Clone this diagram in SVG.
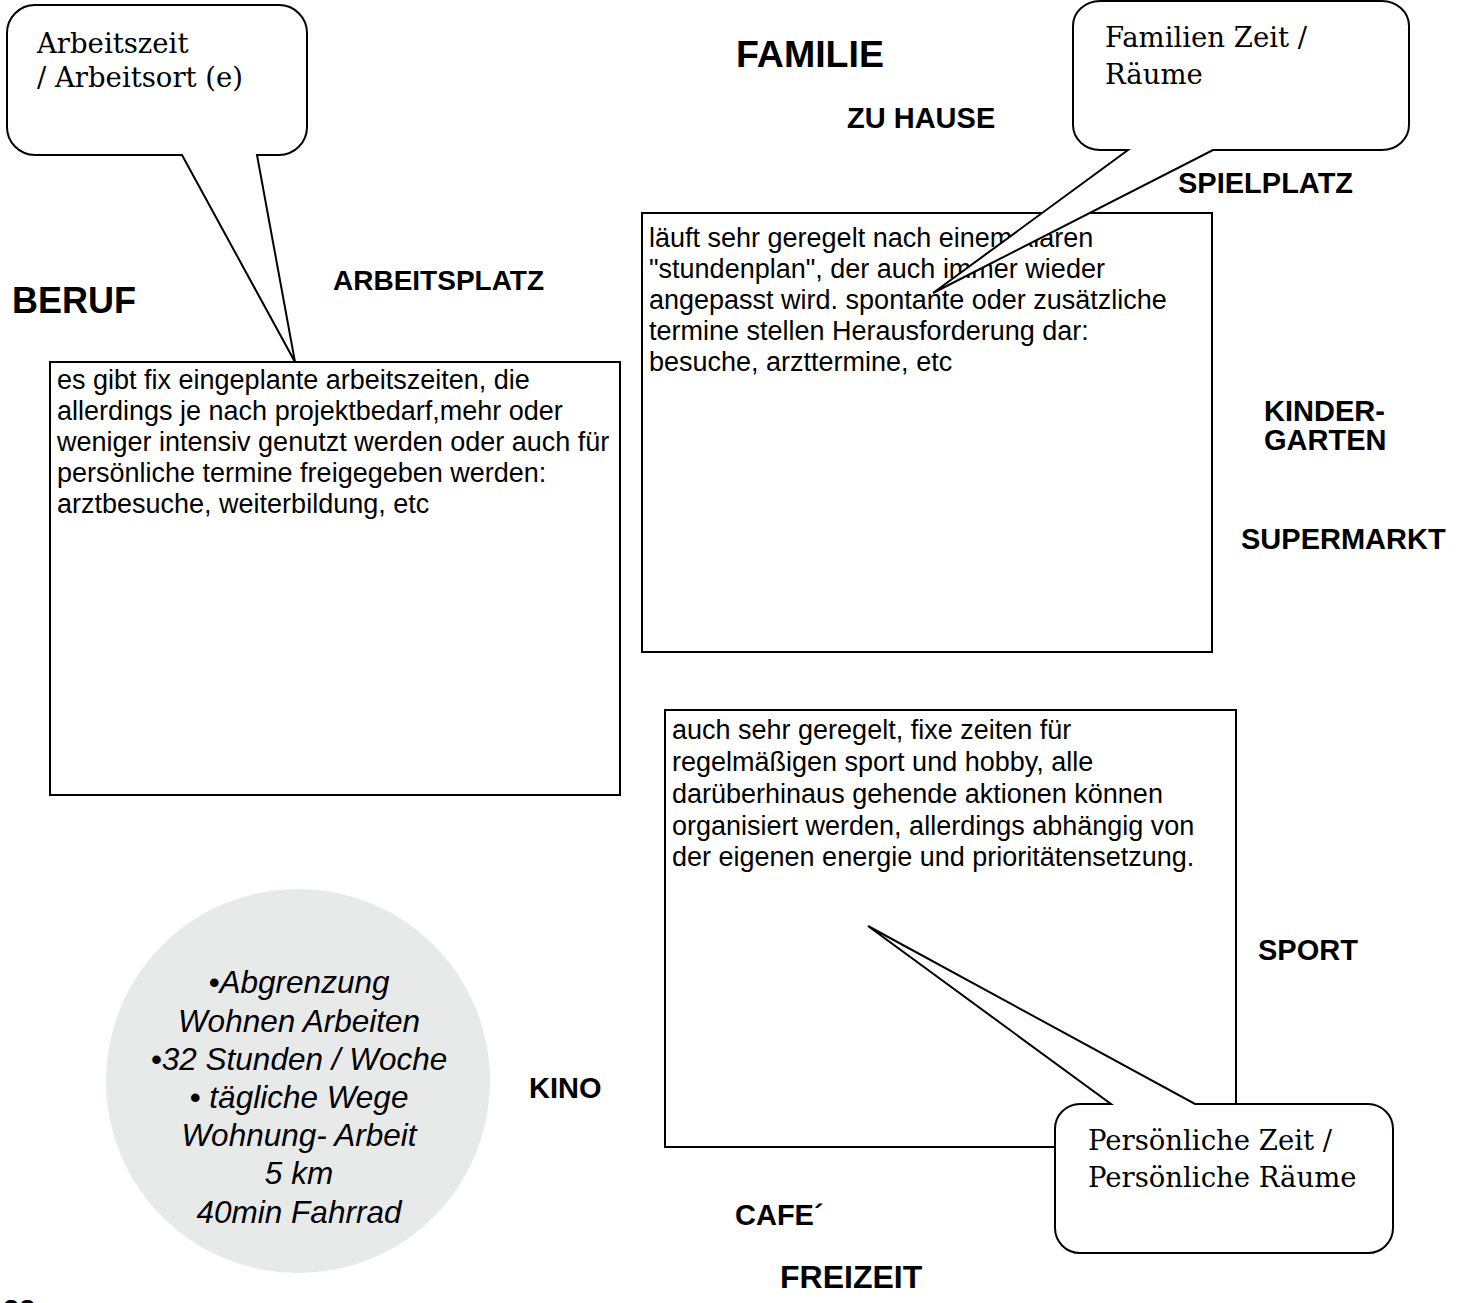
<svg xmlns="http://www.w3.org/2000/svg" width="1463" height="1303" viewBox="0 0 1463 1303">
  <style>
    .box { fill: #ffffff; stroke: #000000; stroke-width: 2; }
    .bubble { fill: #ffffff; stroke: #000000; stroke-width: 2; stroke-linejoin: miter; }
    .body { font-family: "Liberation Sans", Arial, sans-serif; font-size: 27px; fill: #000000; }
    .label { font-family: "Liberation Sans", Arial, sans-serif; font-size: 29px; font-weight: bold; fill: #000000; }
    .heading { font-family: "Liberation Sans", Arial, sans-serif; font-size: 36px; font-weight: bold; fill: #000000; }
    .note { font-family: "DejaVu Serif", "Liberation Serif", serif; font-size: 27.5px; fill: #000000; }
    .disc { font-family: "Liberation Sans", Arial, sans-serif; font-size: 31.5px; font-style: italic; fill: #000000; text-anchor: middle; }
  </style>

  <rect width="1463" height="1303" fill="#ffffff"/>

  <!-- section headings and place labels -->
  <g id="headings">
    <text class="heading" x="12" y="313">BERUF</text>
    <text class="heading" x="736" y="67" style="font-size:37.5px">FAMILIE</text>
    <text class="heading" x="780" y="1288" style="font-size:32px">FREIZEIT</text>
    <text class="label" x="333" y="290" style="font-size:28px">ARBEITSPLATZ</text>
    <text class="label" x="847" y="128">ZU HAUSE</text>
    <text class="label" x="1178" y="193">SPIELPLATZ</text>
    <text class="label" x="1264" y="421">KINDER-</text>
    <text class="label" x="1264" y="450">GARTEN</text>
    <text class="label" x="1241" y="549">SUPERMARKT</text>
    <text class="label" x="1258" y="960">SPORT</text>
    <text class="label" x="529" y="1098">KINO</text>
    <text class="label" x="735" y="1225">CAFE´</text>
    <text class="label" x="3" y="1320">22</text>
  </g>

  <!-- work text box -->
  <g id="beruf-box">
    <rect class="box" x="50" y="362" width="570" height="433"/>
    <text class="body" x="57" y="389">es gibt fix eingeplante arbeitszeiten, die</text>
    <text class="body" x="57" y="420">allerdings je nach projektbedarf,mehr oder</text>
    <text class="body" x="57" y="451">weniger intensiv genutzt werden oder auch für</text>
    <text class="body" x="57" y="482">persönliche termine freigegeben werden:</text>
    <text class="body" x="57" y="513">arztbesuche, weiterbildung, etc</text>
  </g>

  <!-- family text box -->
  <g id="familie-box">
    <rect class="box" x="642" y="213" width="570" height="439"/>
    <text class="body" x="649" y="247">läuft sehr geregelt nach einem klaren</text>
    <text class="body" x="649" y="278">"stundenplan", der auch immer wieder</text>
    <text class="body" x="649" y="309">angepasst wird. spontante oder zusätzliche</text>
    <text class="body" x="649" y="340">termine stellen Herausforderung dar:</text>
    <text class="body" x="649" y="371">besuche, arzttermine, etc</text>
  </g>

  <!-- leisure text box -->
  <g id="freizeit-box">
    <rect class="box" x="665" y="710" width="571" height="437"/>
    <text class="body" x="672" y="739">auch sehr geregelt, fixe zeiten für</text>
    <text class="body" x="672" y="771">regelmäßigen sport und hobby, alle</text>
    <text class="body" x="672" y="803">darüberhinaus gehende aktionen können</text>
    <text class="body" x="672" y="835">organisiert werden, allerdings abhängig von</text>
    <text class="body" x="672" y="866">der eigenen energie und prioritätensetzung.</text>
  </g>

  <!-- grey summary disc -->
  <g id="summary-disc">
    <circle cx="298" cy="1081" r="192" fill="#e8e9e9"/>
    <text class="disc" x="299" y="993">•Abgrenzung</text>
    <text class="disc" x="299" y="1032">Wohnen Arbeiten</text>
    <text class="disc" x="299" y="1070">•32 Stunden / Woche</text>
    <text class="disc" x="299" y="1108">• tägliche Wege</text>
    <text class="disc" x="299" y="1146">Wohnung- Arbeit</text>
    <text class="disc" x="299" y="1184">5 km</text>
    <text class="disc" x="299" y="1223">40min Fahrrad</text>
  </g>

  <!-- speech bubbles pointing into the boxes -->
  <g id="connectors">
    <g id="bubble-arbeitszeit">
      <path class="bubble" d="M35,5 H279 A28,28 0 0 1 307,33 V127 A28,28 0 0 1 279,155 H257 L295,362 L182,155 H35 A28,28 0 0 1 7,127 V33 A28,28 0 0 1 35,5 Z"/>
      <text class="note" x="37" y="53">Arbeitszeit</text>
      <text class="note" x="37" y="87">/ Arbeitsort (e)</text>
    </g>
    <g id="bubble-familie">
      <path class="bubble" d="M1100,1 H1382 A27,25 0 0 1 1409,26 V125 A27,25 0 0 1 1382,150 H1213 L933,293 L1128,150 H1100 A27,25 0 0 1 1073,125 V26 A27,25 0 0 1 1100,1 Z"/>
      <text class="note" x="1105" y="47">Familien Zeit /</text>
      <text class="note" x="1105" y="84">Räume</text>
    </g>
    <g id="bubble-persoenlich">
      <path class="bubble" d="M1080,1104 H1111 L868,926 L1195,1104 H1368 A25,25 0 0 1 1393,1129 V1228 A25,25 0 0 1 1368,1253 H1080 A25,25 0 0 1 1055,1228 V1129 A25,25 0 0 1 1080,1104 Z"/>
      <text class="note" x="1088" y="1150">Persönliche Zeit /</text>
      <text class="note" x="1088" y="1187">Persönliche Räume</text>
    </g>
  </g>
</svg>
